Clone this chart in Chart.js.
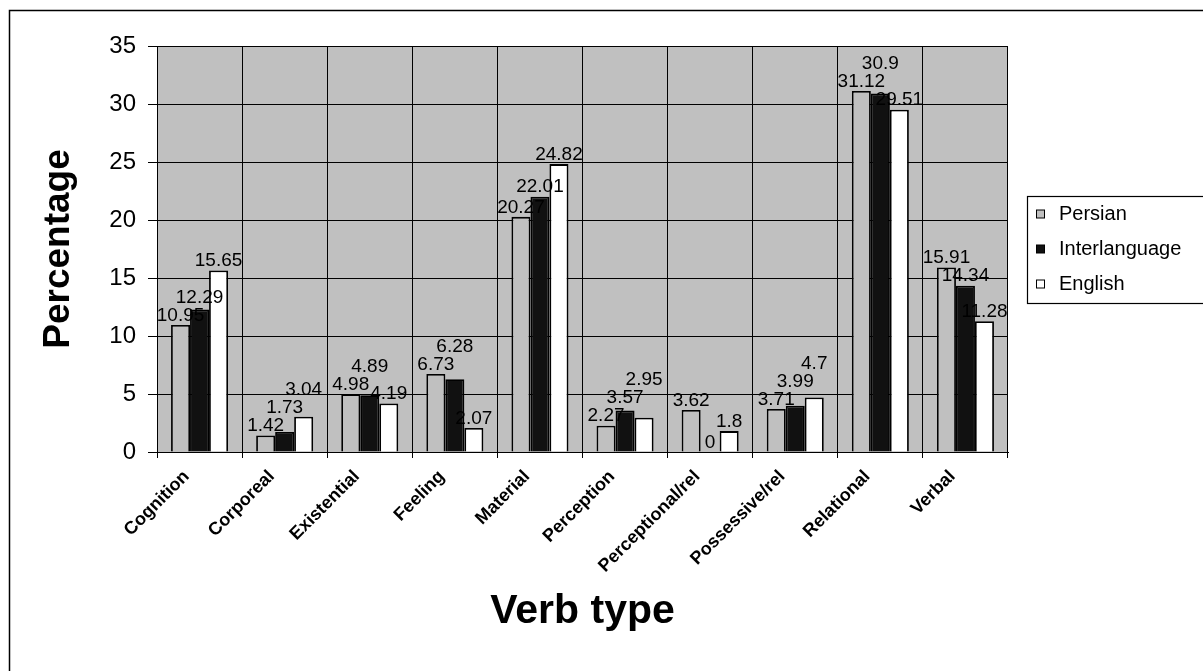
<!DOCTYPE html>
<html>
<head>
<meta charset="utf-8">
<script src="https://cdn.jsdelivr.net/npm/chart.js@4"></script>
<style>
  html, body { margin: 0; padding: 0; background: #fff; }
  #wrap { width: 1203px; height: 671px; position: relative; }
</style>
</head>
<body>
<div id="wrap"><canvas id="c" width="1203" height="671"></canvas></div>
<script>
const categories = ["Cognition", "Corporeal", "Existential", "Feeling", "Material", "Perception", "Perceptional/rel", "Possessive/rel", "Relational", "Verbal"];
const persian = [10.95, 1.42, 4.98, 6.73, 20.27, 2.27, 3.62, 3.71, 31.12, 15.91];
const interlanguage = [12.29, 1.73, 4.89, 6.28, 22.01, 3.57, 0, 3.99, 30.9, 14.34];
const english = [15.65, 3.04, 4.19, 2.07, 24.82, 2.95, 1.8, 4.7, 29.51, 11.28];
const seriesNames = ["Persian", "Interlanguage", "English"];
const yMin = 0, yMax = 35, yStep = 5;
const xTitle = "Verb type";
const yTitle = "Percentage";

const FONT = "'Liberation Sans', Arial, sans-serif";

const frameAndBg = {
  id: 'frameAndBg',
  beforeDraw(chart) {
    const ctx = chart.ctx, a = chart.chartArea;
    ctx.save();
    ctx.fillStyle = '#fff';
    ctx.fillRect(0, 0, chart.width, chart.height);
    ctx.strokeStyle = '#000';
    ctx.lineWidth = 1.5;
    ctx.strokeRect(9.5, 10.5, chart.width + 50, chart.height + 50);
    ctx.fillStyle = '#c0c0c0';
    ctx.fillRect(a.left, a.top, a.right - a.left, a.bottom - a.top);
    ctx.restore();
  }
};

const valueLabels = {
  id: 'valueLabels',
  afterDatasetsDraw(chart) {
    const ctx = chart.ctx;
    ctx.save();
    ctx.font = "19px " + FONT;
    ctx.fillStyle = '#000';
    ctx.textAlign = 'center';
    ctx.textBaseline = 'bottom';
    const n = chart.data.labels.length;
    for (let i = 0; i < n; i++) {
      const placed = [];
      chart.data.datasets.forEach((ds, di) => {
        const el = chart.getDatasetMeta(di).data[i];
        const txt = String(ds.data[i]);
        const w = ctx.measureText(txt).width;
        const h = 16;
        let bottom = el.y - 2;
        let changed = true;
        while (changed) {
          changed = false;
          for (const r of placed) {
            const l = el.x - w / 2, rr = el.x + w / 2;
            if (l < r.r && rr > r.l && bottom - h < r.b && bottom > r.t) {
              bottom = r.t - 2;
              changed = true;
            }
          }
        }
        placed.push({ l: el.x - w / 2, r: el.x + w / 2, t: bottom - h, b: bottom });
        ctx.fillText(txt, el.x, bottom + 2);
      });
    }
    ctx.restore();
  }
};

const boxLegend = {
  id: 'boxLegend',
  afterDraw(chart) {
    const ctx = chart.ctx;
    ctx.save();
    ctx.fillStyle = '#fff';
    ctx.fillRect(1027.5, 196.5, 200, 107);
    ctx.strokeStyle = '#000';
    ctx.lineWidth = 1.2;
    ctx.strokeRect(1027.5, 196.5, 200, 107);
    ctx.font = "20px " + FONT;
    ctx.textBaseline = 'middle';
    ctx.textAlign = 'left';
    chart.data.datasets.forEach((ds, i) => {
      const cy = 214 + i * 35;
      ctx.fillStyle = ds.backgroundColor;
      ctx.fillRect(1036.5, cy - 4, 8, 8);
      ctx.strokeStyle = '#000';
      ctx.lineWidth = 1;
      ctx.strokeRect(1036.5, cy - 4, 8, 8);
      ctx.fillStyle = '#000';
      ctx.fillText(ds.label, 1059, cy);
    });
    ctx.restore();
  }
};

const seriesData = [persian, interlanguage, english];
const fills = ['#c0c0c0', '#111111', '#ffffff'];

new Chart(document.getElementById('c'), {
  type: 'bar',
  data: {
    labels: categories,
    datasets: seriesNames.map((name, i) => ({
      label: name,
      data: seriesData[i],
      backgroundColor: fills[i],
      borderColor: '#000',
      borderWidth: 1.8,
      categoryPercentage: 0.67,
      barPercentage: 1.0
    }))
  },
  options: {
    responsive: false,
    animation: false,
    devicePixelRatio: 1,
    layout: { padding: { top: 46, right: 195, left: 0, bottom: 0 } },
    plugins: {
      legend: { display: false },
      tooltip: { enabled: false }
    },
    scales: {
      x: {
        offset: true,
        grid: { display: true, offset: true, color: '#000', lineWidth: 1, tickLength: 6, drawTicks: true },
        border: { display: true, color: '#000', width: 1 },
        ticks: {
          minRotation: 45, maxRotation: 45, autoSkip: false,
          color: '#000', padding: 8, labelOffset: -13,
          font: { family: FONT, size: 18, weight: 'bold' }
        },
        title: {
          display: true, text: xTitle, color: '#000',
          font: { family: FONT, size: 41, weight: 'bold' },
          padding: { top: 0, bottom: 35 }
        },
        afterFit(s) { s.height = 219; }
      },
      y: {
        min: yMin, max: yMax,
        grid: { color: '#000', lineWidth: 1, tickLength: 9, drawTicks: true },
        border: { display: true, color: '#000', width: 1 },
        ticks: {
          stepSize: yStep, color: '#000', padding: 12,
          font: { family: FONT, size: 24 }
        },
        title: {
          display: true, text: yTitle, color: '#000',
          font: { family: FONT, size: 37, weight: 'bold' },
          padding: { top: 37, bottom: 0 }
        },
        afterFit(s) { s.width = 157; }
      }
    }
  },
  plugins: [frameAndBg, valueLabels, boxLegend]
});
</script>
</body>
</html>
